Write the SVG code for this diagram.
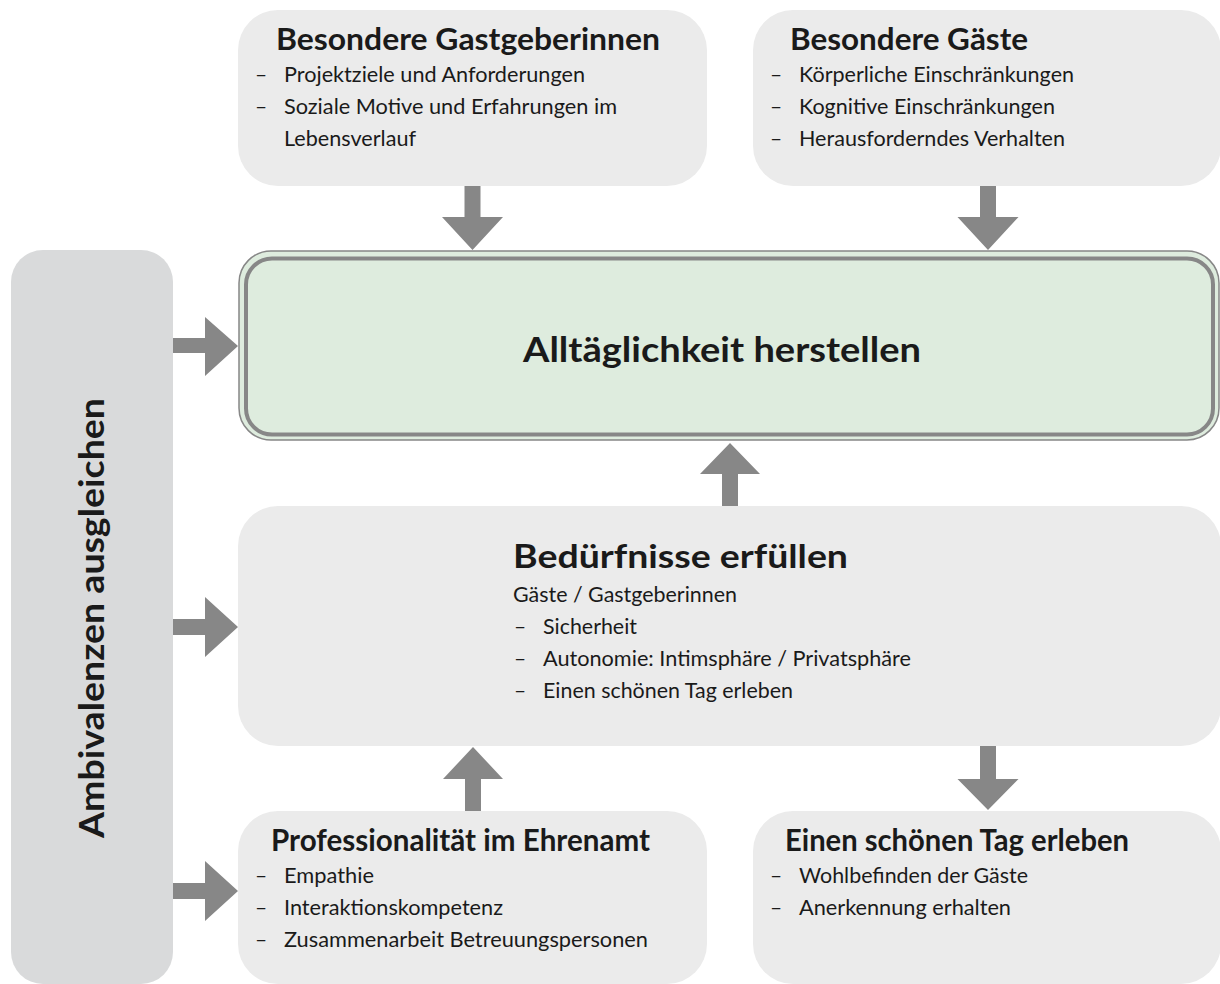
<svg xmlns="http://www.w3.org/2000/svg" width="1220" height="984" viewBox="0 0 1220 984">
<style>
.box{fill:#ebebeb}
.bar{fill:#d9dadb}
.t{font-family:Lato,"Open Sans","Liberation Sans",sans-serif;fill:#1a1a1a}
.h{font-weight:bold;font-size:30px}
.hb{font-weight:bold;font-size:34px}
.r{font-size:21px}
.arr{fill:#878787}
</style>
<rect width="1220" height="984" fill="#ffffff"/>
<g id="ambivalenzen">
<rect class="bar" x="11" y="250" width="162" height="734" rx="32"/>
<text class="t hb" transform="translate(104 618) rotate(-90)" text-anchor="middle" textLength="440" lengthAdjust="spacingAndGlyphs">Ambivalenzen ausgleichen</text>
</g>
<g id="gastgeberinnen">
<rect class="box" x="238" y="10" width="469" height="176" rx="40"/>
<text class="t h" x="276" y="50" textLength="384" lengthAdjust="spacingAndGlyphs">Besondere Gastgeberinnen</text>
<text class="t r" x="255" y="82">–</text><text class="t r" x="284" y="82" textLength="301" lengthAdjust="spacingAndGlyphs">Projektziele und Anforderungen</text>
<text class="t r" x="255" y="114">–</text><text class="t r" x="284" y="114" textLength="333" lengthAdjust="spacingAndGlyphs">Soziale Motive und Erfahrungen im</text>
<text class="t r" x="284" y="146" textLength="132" lengthAdjust="spacingAndGlyphs">Lebensverlauf</text>
</g>
<g id="gaeste">
<rect class="box" x="753" y="10" width="468" height="176" rx="40"/>
<text class="t h" x="790" y="50" textLength="238" lengthAdjust="spacingAndGlyphs">Besondere Gäste</text>
<text class="t r" x="770" y="82">–</text><text class="t r" x="799" y="82" textLength="275" lengthAdjust="spacingAndGlyphs">Körperliche Einschränkungen</text>
<text class="t r" x="770" y="114">–</text><text class="t r" x="799" y="114" textLength="256" lengthAdjust="spacingAndGlyphs">Kognitive Einschränkungen</text>
<text class="t r" x="770" y="146">–</text><text class="t r" x="799" y="146" textLength="266" lengthAdjust="spacingAndGlyphs">Herausforderndes Verhalten</text>
</g>
<g id="alltaeglichkeit">
<rect x="239" y="251" width="980" height="189" rx="32" fill="#deecde" stroke="#878787" stroke-width="1.5"/>
<rect x="246" y="258.5" width="967" height="176" rx="26" fill="#deecde" stroke="#878787" stroke-width="4"/>
<text class="t hb" x="722" y="362" text-anchor="middle" textLength="398" lengthAdjust="spacingAndGlyphs">Alltäglichkeit herstellen</text>
</g>
<g id="beduerfnisse">
<rect class="box" x="238" y="506" width="983" height="240" rx="40"/>
<text class="t" x="513" y="568" font-size="32" font-weight="bold" textLength="335" lengthAdjust="spacingAndGlyphs">Bedürfnisse erfüllen</text>
<text class="t r" x="513" y="602" textLength="224" lengthAdjust="spacingAndGlyphs">Gäste / Gastgeberinnen</text>
<text class="t r" x="514" y="634">–</text><text class="t r" x="543" y="634" textLength="94" lengthAdjust="spacingAndGlyphs">Sicherheit</text>
<text class="t r" x="514" y="666">–</text><text class="t r" x="543" y="666" textLength="368" lengthAdjust="spacingAndGlyphs">Autonomie: Intimsphäre / Privatsphäre</text>
<text class="t r" x="514" y="698">–</text><text class="t r" x="543" y="698" textLength="250" lengthAdjust="spacingAndGlyphs">Einen schönen Tag erleben</text>
</g>
<g id="professionalitaet">
<rect class="box" x="238" y="811" width="469" height="173" rx="40"/>
<text class="t h" x="271" y="851" textLength="379" lengthAdjust="spacingAndGlyphs">Professionalität im Ehrenamt</text>
<text class="t r" x="255" y="883">–</text><text class="t r" x="284" y="883" textLength="90" lengthAdjust="spacingAndGlyphs">Empathie</text>
<text class="t r" x="255" y="915">–</text><text class="t r" x="284" y="915" textLength="219" lengthAdjust="spacingAndGlyphs">Interaktionskompetenz</text>
<text class="t r" x="255" y="947">–</text><text class="t r" x="284" y="947" textLength="364" lengthAdjust="spacingAndGlyphs">Zusammenarbeit Betreuungspersonen</text>
</g>
<g id="schoener-tag">
<rect class="box" x="753" y="811" width="468" height="173" rx="40"/>
<text class="t h" x="785" y="851" textLength="344" lengthAdjust="spacingAndGlyphs">Einen schönen Tag erleben</text>
<text class="t r" x="770" y="883">–</text><text class="t r" x="799" y="883" textLength="229" lengthAdjust="spacingAndGlyphs">Wohlbefinden der Gäste</text>
<text class="t r" x="770" y="915">–</text><text class="t r" x="799" y="915" textLength="212" lengthAdjust="spacingAndGlyphs">Anerkennung erhalten</text>
</g>
<g id="connectors">
<polygon class="arr" points="464.5,186 480.5,186 480.5,217 503,217 472.5,250 442,217 464.5,217"/>
<polygon class="arr" points="980,186 996,186 996,217 1018.5,217 988,250 957.5,217 980,217"/>
<polygon class="arr" points="722,506 738,506 738,474 760,474 730,443 700,474 722,474"/>
<polygon class="arr" points="465,811 481,811 481,779 503,779 473,747 443,779 465,779"/>
<polygon class="arr" points="980,746 996,746 996,779 1018.5,779 988,810 957.5,779 980,779"/>
<polygon class="arr" points="173,338 205,338 205,317 238,346 205,376 205,353 173,353"/>
<polygon class="arr" points="173,619 205,619 205,597 238,627 205,657 205,635 173,635"/>
<polygon class="arr" points="173,883 205,883 205,861 238,891 205,921 205,899 173,899"/>
</g>
</svg>
